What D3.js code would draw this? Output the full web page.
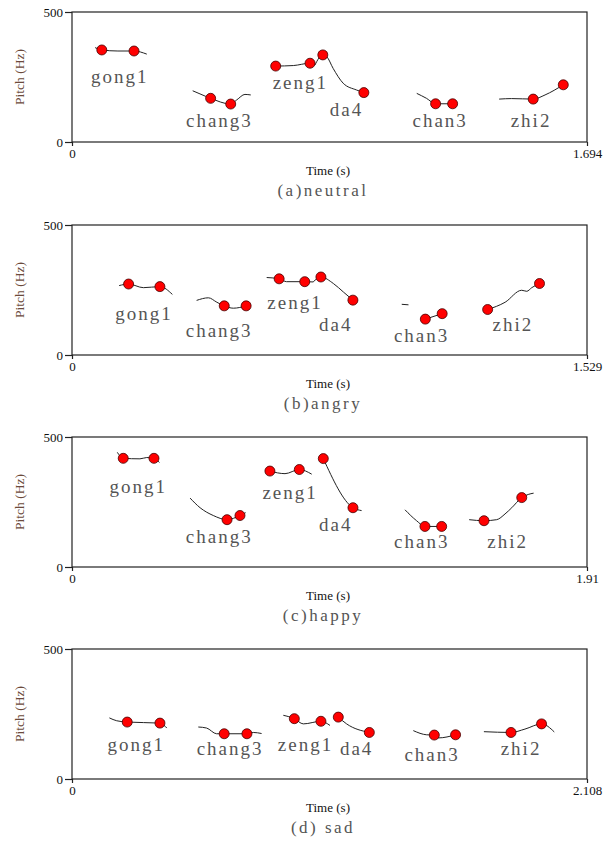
<!doctype html>
<html lang="en">
<head>
  <meta charset="utf-8">
  <title>Pitch contours</title>
</head>
<style>
html, body, svg {
    margin: 0;
    padding: 0;
    border: 0;
    background: #fff;
}
svg text {
    font-family: "Liberation Serif", "DejaVu Serif", "Times New Roman", serif;
}
</style>
<body>
  <svg id="chart"></svg>
</body>
<script src="https://d3js.org/d3.v7.min.js"></script>
<script type="text/javascript">
    // syllables and panels
    var syllables = ["gong1", "chang3", "zeng1", "da4", "chan3", "zhi2"];
    var captions = ["(a)neutral", "(b)angry", "(c)happy", "(d) sad"];
    var durations = [1.694, 1.529, 1.91, 2.108];
    var durationLabels = ["1.694", "1.529", "1.91", "2.108"];
    var pitchTicks = [0, 500];

    // pitch contours [time s, pitch Hz]
    var contoursNeutral = [
      [[0.076,363],[0.098,354],[0.151,350],[0.204,350],[0.246,338]],
      [[0.397,197],[0.421,185],[0.456,168],[0.522,146],[0.542,162],[0.569,183],[0.588,181]],
      [[0.670,292],[0.728,294],[0.783,303],[0.799,296]],
      [[0.799,296],[0.825,335],[0.838,328],[0.859,283],[0.892,226],[0.936,200],[0.960,190]],
      [[1.134,187],[1.166,168],[1.196,147],[1.252,147]],
      [[1.405,165],[1.446,167],[1.517,165],[1.556,181],[1.616,220]]
    ];
    var contoursAngry = [
      [[0.140,267],[0.168,273],[0.212,259],[0.261,263],[0.298,233]],
      [[0.370,210],[0.405,220],[0.430,203],[0.452,189],[0.479,180],[0.517,189]],
      [[0.578,298],[0.615,293],[0.637,282],[0.691,282],[0.716,281]],
      [[0.716,281],[0.739,300],[0.776,275],[0.806,242],[0.834,211]],
      [[0.979,195],[0.999,193]],
      [[1.049,138],[1.099,159]],
      [[1.234,175],[1.286,203],[1.335,249],[1.350,245],[1.365,259],[1.388,275]]
    ];
    var contoursHappy = [
      [[0.168,441],[0.190,418],[0.252,416],[0.277,421],[0.304,418],[0.324,402]],
      [[0.438,265],[0.475,228],[0.524,198],[0.575,182],[0.623,198],[0.644,209]],
      [[0.734,369],[0.790,359],[0.843,375],[0.889,357]],
      [[0.932,417],[1.042,228],[1.074,217]],
      [[1.235,220],[1.278,178],[1.309,156],[1.371,156]],
      [[1.473,182],[1.528,178],[1.575,182],[1.606,204],[1.631,228],[1.668,267],[1.692,279],[1.712,284]]
    ];
    var contoursSad = [
      [[0.153,235],[0.183,224],[0.226,219],[0.360,215],[0.388,196]],
      [[0.517,200],[0.551,196],[0.592,174],[0.623,174],[0.716,174],[0.742,179],[0.776,175]],
      [[0.865,245],[0.910,232],[0.947,212],[1.019,222],[1.056,206]],
      [[1.090,238],[1.124,212],[1.217,179]],
      [[1.397,186],[1.452,170],[1.483,169],[1.500,158],[1.570,170]],
      [[1.686,182],[1.797,179],[1.854,192],[1.922,212],[1.974,181]]
    ];

    // marked points [time s, pitch Hz]
    var dotsNeutral = [[0.098,354],[0.204,350],[0.456,168],[0.522,146],[0.670,292],[0.783,303],
      [0.825,335],[0.960,190],[1.196,147],[1.252,147],[1.517,165],[1.616,220]];
    var dotsAngry = [[0.168,273],[0.261,263],[0.452,189],[0.517,189],[0.615,293],[0.691,282],
      [0.739,300],[0.834,211],[1.049,138],[1.099,159],[1.234,175],[1.388,275]];
    var dotsHappy = [[0.190,418],[0.304,418],[0.575,182],[0.623,198],[0.734,369],[0.843,375],
      [0.932,417],[1.042,228],[1.309,156],[1.371,156],[1.528,178],[1.668,267]];
    var dotsSad = [[0.226,219],[0.360,215],[0.623,174],[0.716,174],[0.910,232],[1.019,222],
      [1.090,238],[1.217,179],[1.483,169],[1.570,170],[1.797,179],[1.922,212]];

    // syllable label anchors [time s, pitch Hz], one per syllable
    var labelsNeutral = [[0.157,227],[0.485,56],[0.751,203],[0.903,100],[1.211,56],[1.510,56]];
    var labelsAngry = [[0.214,133],[0.437,68],[0.662,178],[0.783,91],[1.038,49],[1.309,91]];
    var labelsHappy = [[0.246,284],[0.546,93],[0.809,262],[0.978,140],[1.297,75],[1.616,75]];
    var labelsSad = [[0.263,106],[0.647,91],[0.956,109],[1.165,91],[1.474,70],[1.838,91]];

    var panels = [
      {contours: contoursNeutral, dots: dotsNeutral, labels: labelsNeutral},
      {contours: contoursAngry, dots: dotsAngry, labels: labelsAngry},
      {contours: contoursHappy, dots: dotsHappy, labels: labelsHappy},
      {contours: contoursSad, dots: dotsSad, labels: labelsSad}
    ];

    var w = 610, h = 842;
    var left = 72, right = 587;
    var tops = [12, 225, 437, 649];
    var ph = 130;
    var serif = '"Liberation Serif", "DejaVu Serif", serif';

    var svg = d3.select("#chart")
      .attr("width", w)
      .attr("height", h);

    svg.append("rect")
      .attr("width", w)
      .attr("height", h)
      .attr("fill", "#fff");

    panels.forEach(function(p, i) {
      var top = tops[i];
      var x = d3.scaleLinear().domain([0, durations[i]]).range([left, right]);
      var y = d3.scaleLinear().domain([0, 500]).range([top + ph, top]);

      var g = svg.append("g");

      // frame
      g.append("rect")
        .attr("x", left)
        .attr("y", top)
        .attr("width", right - left)
        .attr("height", ph)
        .attr("fill", "none")
        .attr("stroke", "#222")
        .attr("stroke-width", 1.2);

      var yAxis = g.append("g")
        .attr("transform", "translate(" + left + ",0)")
        .call(d3.axisLeft(y).tickValues(pitchTicks).tickSize(7).tickPadding(2).tickFormat(d3.format("d")));
      var xAxis = g.append("g")
        .attr("transform", "translate(0," + (top + ph) + ")")
        .call(d3.axisBottom(x).tickValues([0, durations[i]]).tickSize(4).tickPadding(3)
          .tickFormat(function(d, k) { return k === 0 ? "0" : durationLabels[i]; }));
      [yAxis, xAxis].forEach(function(a) {
        a.attr("font-family", serif).attr("font-size", 13);
        a.select(".domain").remove();
        a.selectAll("line").attr("stroke", "#222").attr("stroke-width", 1.2);
        a.selectAll("text").attr("fill", "#111");
      });

      g.append("text")
        .attr("transform", "translate(24," + (top + ph / 2) + ") rotate(-90)")
        .attr("text-anchor", "middle")
        .attr("fill", "#6b4a3a")
        .attr("font-family", serif)
        .attr("font-size", 13.5)
        .text("Pitch (Hz)");

      g.append("text")
        .attr("x", 328)
        .attr("y", top + ph + 33)
        .attr("text-anchor", "middle")
        .attr("fill", "#111")
        .attr("font-family", serif)
        .attr("font-size", 13)
        .text("Time (s)");

      g.append("text")
        .attr("x", 323)
        .attr("y", top + ph + 54)
        .attr("text-anchor", "middle")
        .attr("fill", "#555")
        .attr("font-family", serif)
        .attr("font-size", 17)
        .attr("letter-spacing", 2.5)
        .text(captions[i]);

      var line = d3.line()
        .x(function(d) { return x(d[0]); })
        .y(function(d) { return y(d[1]); })
        .curve(d3.curveMonotoneX);

      g.selectAll("path.contour")
        .data(p.contours)
        .enter()
        .append("path")
        .attr("class", "contour")
        .attr("d", line)
        .attr("fill", "none")
        .attr("stroke", "#222")
        .attr("stroke-width", 1);

      g.selectAll("text.syl")
        .data(p.labels)
        .enter()
        .append("text")
        .attr("class", "syl")
        .attr("x", function(d) { return x(d[0]); })
        .attr("y", function(d) { return y(d[1]); })
        .attr("text-anchor", "middle")
        .attr("fill", "#555")
        .attr("font-family", serif)
        .attr("font-size", 19)
        .attr("letter-spacing", 2)
        .text(function(d, k) { return syllables[k]; });

      g.selectAll("circle")
        .data(p.dots)
        .enter()
        .append("circle")
        .attr("cx", function(d) { return x(d[0]); })
        .attr("cy", function(d) { return y(d[1]); })
        .attr("r", 5)
        .attr("fill", "#ff0000")
        .attr("stroke", "#400")
        .attr("stroke-width", 0.8);
    });
</script>
</html>
